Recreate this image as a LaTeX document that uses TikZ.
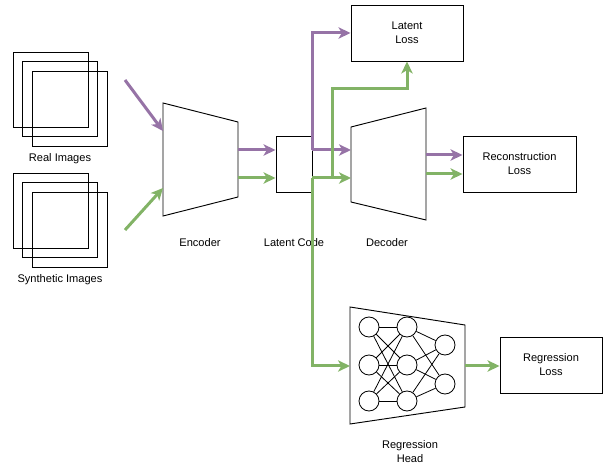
\documentclass[tikz,border=0pt]{standalone}
\usepackage{fontspec}
\setmainfont{Liberation Sans}
\usetikzlibrary{arrows.meta}

\definecolor{violet}{HTML}{9673A6}
\definecolor{leaf}{HTML}{82B366}

\begin{document}
\begin{tikzpicture}[
  x=0.75pt, y=-0.75pt,
  box/.style    = {draw, line width=0.7pt, minimum height=42pt, align=center,
                   font=\fontsize{8.3}{10.5}\selectfont, inner sep=0pt},
  imgbox/.style = {draw, line width=0.7pt, fill=none, minimum size=56.25pt,
                   inner sep=0pt},
  neuron/.style = {draw, line width=0.6pt, circle, fill=white,
                   minimum size=15pt, inner sep=0pt},
  lbl/.style    = {font=\fontsize{8.3}{10.5}\selectfont, align=center},
  parr/.style   = {-{Stealth[length=9pt,width=8.5pt,inset=2.5pt]},
                   line width=2.25pt, violet},
  garr/.style   = {-{Stealth[length=9pt,width=8.5pt,inset=2.5pt]},
                   line width=2.25pt, leaf},
  trap/.style   = {draw, line width=0.7pt},
]
\useasboundingbox (0,0) rectangle (603,466);

% input image stacks
\foreach \i in {0,1,2} {
  \node[imgbox] (real\i) at (50.5+9.5*\i, 89.5+9.5*\i) {};
  \node[imgbox] (syn\i)  at (50.5+9.5*\i, 210.5+9.5*\i) {};
}
\node[lbl] (reallbl) at (60,159) {Real Images};
\node[lbl] (synlbl)  at (60,280) {Synthetic Images};

% encoder / decoder / head outlines
\coordinate (enc-nw) at (163,103);  \coordinate (enc-ne) at (238,122);
\coordinate (enc-se) at (238,197);  \coordinate (enc-sw) at (163,216);
\draw[trap] (enc-nw) -- (enc-ne) -- (enc-se) -- (enc-sw) -- cycle;
\node[lbl] (enclbl) at (200,243) {Encoder};

\coordinate (dec-nw) at (351,127);  \coordinate (dec-ne) at (426,108);
\coordinate (dec-se) at (426,220);  \coordinate (dec-sw) at (351,202);
\draw[trap] (dec-nw) -- (dec-ne) -- (dec-se) -- (dec-sw) -- cycle;
\node[lbl] (declbl) at (387,243) {Decoder};

\coordinate (head-nw) at (350,307); \coordinate (head-ne) at (465,325);
\coordinate (head-se) at (465,407); \coordinate (head-sw) at (350,424);
\draw[trap] (head-nw) -- (head-ne) -- (head-se) -- (head-sw) -- cycle;
\node[lbl] (headlbl) at (410,452) {Regression\\Head};

% small network inside the head
\foreach \j/\y in {1/327,2/365,3/401} {
  \node[neuron] (na\j) at (369,\y) {};
  \node[neuron] (nb\j) at (407,\y) {};
}
\node[neuron] (nc1) at (445,345) {};
\node[neuron] (nc2) at (445,384) {};
\foreach \a in {1,2,3} {
  \foreach \b in {1,2,3}
    \draw[line width=0.6pt] (na\a) -- (nb\b);
  \foreach \c in {1,2}
    \draw[line width=0.6pt] (nb\a) -- (nc\c);
}

% boxes
\node[box, minimum width=27pt]    (lc)  at (294,164)   {};
\node[lbl] (lclbl) at (294,243) {Latent Code};
\node[box, minimum width=84pt]    (ll)  at (407,33)    {Latent\\Loss};
\node[box, minimum width=84.75pt] (rec) at (519.5,164) {Reconstruction\\Loss};
\node[box, minimum width=76.5pt]  (reg) at (551,365)   {Regression\\Loss};

% inputs into the encoder
\coordinate (realsrc) at (125,80);
\coordinate (synsrc)  at (125,230);
\draw[parr] (realsrc) -- (enc-nw |- 0,131);
\draw[garr] (synsrc)  -- (enc-nw |- 0,188);

% encoder -> latent code
\draw[parr] (enc-ne |- 0,150) -- (lc.west |- 0,150);
\draw[garr] (enc-ne |- 0,178) -- (lc.west |- 0,178);

% latent code -> latent loss / decoder / head
\draw[parr] (lc.east |- 0,150) |- (ll.west);
\draw[parr] (lc.east |- 0,150) -- (dec-nw |- 0,150);
\draw[garr] (lc.east |- 0,178) -| (332,89) -| (ll.south);
\draw[garr] (lc.east |- 0,178) -- (dec-nw |- 0,178);
\draw[garr] (lc.east |- 0,178) |- (head-nw |- 0,366);

% decoder -> reconstruction loss
\draw[parr] (dec-ne |- 0,155) -- (rec.west |- 0,155);
\draw[garr] (dec-ne |- 0,174) -- (rec.west |- 0,174);

% head -> regression loss
\draw[garr] (head-ne |- 0,366) -- (reg.west |- 0,366);

\end{tikzpicture}
\end{document}
